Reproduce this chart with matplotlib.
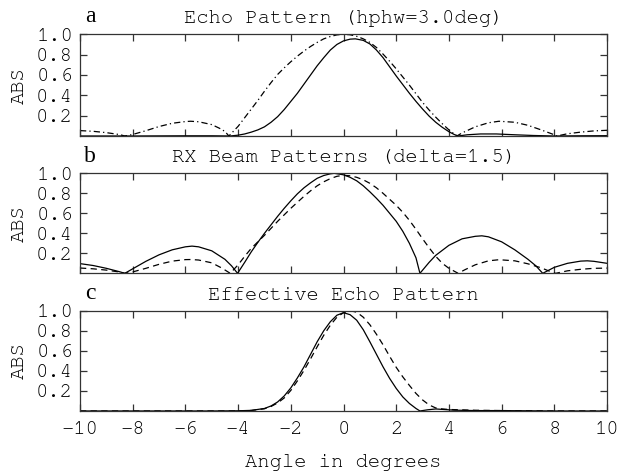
import matplotlib
matplotlib.use("Agg")
import matplotlib.pyplot as plt
from matplotlib import font_manager

# panel a: echo pattern (solid) and transmit pattern (dash-dot)
echo_x = [-10, -8, -6, -5, -4.3, -4.0, -3.75, -3.5, -3.25, -3.0, -2.75, -2.5, -2.25, -2.0,
          -1.75, -1.5, -1.25, -1.0, -0.75, -0.5, -0.25, 0.0, 0.25, 0.45, 0.75, 1.0, 1.25,
          1.5, 1.75, 2.0, 2.25, 2.5, 2.75, 3.0, 3.25, 3.5, 3.75, 4.0, 4.2, 4.35, 4.7, 5.2,
          5.8, 6.5, 7.2, 8.0, 9.0, 10]
echo_y = [0.0, 0.0, 0.002, 0.002, 0.0, 0.008, 0.02, 0.038, 0.06, 0.09, 0.135, 0.19, 0.26, 0.34,
          0.42, 0.51, 0.60, 0.69, 0.77, 0.845, 0.90, 0.935, 0.952, 0.955, 0.94, 0.905, 0.845,
          0.77, 0.68, 0.59, 0.505, 0.42, 0.34, 0.265, 0.195, 0.135, 0.085, 0.042, 0.015, 0.0,
          0.012, 0.02, 0.02, 0.012, 0.005, 0.0, 0.002, 0.003]

tx_x = [-10, -9.5, -9, -8.5, -8.3, -8, -7.5, -7, -6.5, -6, -5.8, -5.5, -5, -4.7, -4.5, -4.35,
        -4.0, -3.75, -3.5, -3.25, -3.0, -2.75, -2.5, -2.25, -2.0, -1.75, -1.5, -1.25, -1.0,
        -0.75, -0.5, -0.25, 0.0, 0.25, 0.5, 0.75, 1.0, 1.25, 1.5, 1.75, 2.0, 2.25, 2.5, 2.75,
        3.0, 3.25, 3.5, 3.75, 4.0, 4.3, 4.5, 5.0, 5.5, 5.9, 6.5, 7.0, 7.5, 8.0, 8.1, 8.5,
        9.0, 9.5, 10]
tx_y = [0.053, 0.046, 0.033, 0.014, 0.0, 0.015, 0.052, 0.093, 0.125, 0.142, 0.145, 0.14, 0.112,
        0.075, 0.045, 0.0, 0.095, 0.18, 0.265, 0.35, 0.44, 0.525, 0.605, 0.67, 0.73, 0.785,
        0.835, 0.88, 0.92, 0.955, 0.978, 0.994, 1.0, 0.995, 0.98, 0.955, 0.92, 0.87, 0.805,
        0.735, 0.66, 0.58, 0.50, 0.415, 0.33, 0.255, 0.185, 0.12, 0.06, 0.0, 0.03, 0.09, 0.13,
        0.145, 0.135, 0.105, 0.06, 0.012, 0.0, 0.022, 0.038, 0.05, 0.056]

# panel b: RX beam patterns
rx1_x = [-10, -9.5, -9.0, -8.5, -8.3, -8.0, -7.5, -7.0, -6.5, -6.0, -5.75, -5.5, -5.0, -4.5,
         -4.25, -4.02, -3.75, -3.5, -3.25, -3.0, -2.75, -2.5, -2.25, -2.0, -1.75, -1.5, -1.25,
         -1.0, -0.75, -0.5, -0.35, 0.0, 0.25, 0.5, 0.75, 1.0, 1.25, 1.5, 1.75, 2.0, 2.25, 2.5,
         2.75, 2.9, 3.25, 3.5, 4.0, 4.5, 5.0, 5.25, 5.5, 6.0, 6.5, 7.0, 7.3, 7.56, 8.0, 8.5,
         9.0, 9.25, 9.5, 10]
rx1_y = [0.097, 0.078, 0.05, 0.016, 0.0, 0.045, 0.12, 0.185, 0.235, 0.265, 0.272, 0.265, 0.225,
         0.14, 0.075, 0.0, 0.11, 0.215, 0.31, 0.40, 0.485, 0.57, 0.65, 0.725, 0.795, 0.855,
         0.905, 0.95, 0.978, 0.995, 1.0, 0.985, 0.96, 0.925, 0.875, 0.815, 0.75, 0.68, 0.60,
         0.52, 0.42, 0.30, 0.155, 0.0, 0.11, 0.18, 0.28, 0.345, 0.37, 0.375, 0.365, 0.315,
         0.235, 0.14, 0.075, 0.0, 0.06, 0.10, 0.122, 0.125, 0.12, 0.10]

rx2_x = [-10, -9.5, -9, -8.5, -8.3, -8, -7.5, -7, -6.5, -6, -5.8, -5.5, -5, -4.6, -4.3, -4.0,
         -3.75, -3.5, -3.25, -3.0, -2.75, -2.5, -2.25, -2.0, -1.75, -1.5, -1.25, -1.0, -0.75,
         -0.5, -0.25, 0.0, 0.25, 0.5, 0.75, 1.0, 1.25, 1.5, 1.75, 2.0, 2.25, 2.5, 2.75, 3.0,
         3.25, 3.5, 3.75, 4.0, 4.35, 4.6, 5.0, 5.5, 5.9, 6.5, 7.0, 7.5, 7.9, 8.05, 8.5, 9.0,
         9.5, 10]
rx2_y = [0.053, 0.045, 0.032, 0.013, 0.0, 0.014, 0.05, 0.09, 0.122, 0.137, 0.138, 0.133, 0.105,
         0.05, 0.0, 0.085, 0.17, 0.25, 0.315, 0.38, 0.45, 0.52, 0.585, 0.65, 0.71, 0.77, 0.825,
         0.875, 0.915, 0.947, 0.97, 0.98, 0.975, 0.96, 0.935, 0.90, 0.855, 0.80, 0.74, 0.68,
         0.61, 0.53, 0.44, 0.345, 0.255, 0.17, 0.10, 0.05, 0.0, 0.035, 0.085, 0.125, 0.136,
         0.125, 0.095, 0.055, 0.012, 0.0, 0.025, 0.04, 0.05, 0.052]

# panel c: effective echo pattern
eff1_x = [-10, -5, -4, -3.5, -3.0, -2.75, -2.5, -2.25, -2.0, -1.75, -1.5, -1.25, -1.0, -0.75,
          -0.5, -0.25, 0.0, 0.25, 0.5, 0.75, 1.0, 1.25, 1.5, 1.75, 2.0, 2.25, 2.5, 2.75, 2.9,
          3.2, 3.5, 3.8, 4.2, 5, 6, 7, 8, 10]
eff1_y = [0.0, 0.0, 0.002, 0.006, 0.025, 0.05, 0.09, 0.15, 0.23, 0.33, 0.44, 0.565, 0.69, 0.80,
          0.89, 0.955, 0.98, 0.96, 0.905, 0.81, 0.69, 0.565, 0.44, 0.325, 0.225, 0.14, 0.075,
          0.025, 0.0, 0.012, 0.02, 0.015, 0.008, 0.004, 0.004, 0.002, 0.0, 0.0]

eff2_x = [-10, -4, -3.5, -3.0, -2.75, -2.5, -2.25, -2.0, -1.75, -1.5, -1.25, -1.0, -0.75, -0.5,
          -0.25, 0.0, 0.25, 0.5, 0.75, 1.0, 1.25, 1.5, 1.75, 2.0, 2.25, 2.5, 2.75, 3.0, 3.25,
          3.5, 3.75, 4.0, 5, 6, 7, 8, 10]
eff2_y = [0.0, 0.0, 0.005, 0.022, 0.045, 0.08, 0.13, 0.205, 0.30, 0.405, 0.52, 0.64, 0.755,
          0.855, 0.935, 0.98, 1.0, 0.985, 0.935, 0.86, 0.765, 0.66, 0.545, 0.435, 0.34, 0.255,
          0.175, 0.11, 0.06, 0.03, 0.02, 0.015, 0.007, 0.004, 0.002, 0.0, 0.0]

titles = ["Echo Pattern (hphw=3.0deg)", "RX Beam Patterns (delta=1.5)", "Effective Echo Pattern"]
letters = ["a", "b", "c"]
x_ticks = [-10, -8, -6, -4, -2, 0, 2, 4, 6, 8, 10]
y_ticks = [0.2, 0.4, 0.6, 0.8, 1.0]

# prefer a Courier-style face if one happens to be installed
installed = {f.name for f in font_manager.fontManager.ttflist}
mono = "Liberation Mono"
for cand in ["Courier New", "Nimbus Mono PS", "FreeMono", "Courier"]:
    if cand in installed:
        mono = cand
        break
fs = 14.8

fig = plt.figure(figsize=(6.28, 4.76), dpi=100)
boxes = [[0.1274, 0.7143, 0.8392, 0.2137],
         [0.1274, 0.4258, 0.8392, 0.2101],
         [0.1274, 0.1366, 0.8392, 0.2107]]
axes = [fig.add_axes(b) for b in boxes]

axes[0].plot(echo_x, echo_y, color="black", lw=0.9)
axes[0].plot(tx_x, tx_y, color="black", lw=0.9, dashes=(5, 2.5, 1, 2.5))
axes[1].plot(rx1_x, rx1_y, color="black", lw=0.9)
axes[1].plot(rx2_x, rx2_y, color="black", lw=0.9, dashes=(5, 3.5))
axes[2].plot(eff1_x, eff1_y, color="black", lw=0.9)
axes[2].plot(eff2_x, eff2_y, color="black", lw=0.9, dashes=(5, 3.5))

for i, ax in enumerate(axes):
    ax.set_xlim(-10, 10)
    ax.set_ylim(0, 1.0)
    ax.set_xticks(x_ticks)
    ax.set_yticks(y_ticks)
    ax.set_yticklabels([f"{v:.1f}" for v in y_ticks], fontfamily=mono, fontsize=fs)
    ax.tick_params(direction="in", length=5, width=0.9, top=True, right=True,
                   colors="#333333", labelcolor="black")
    ax.tick_params(axis="y", pad=5)
    for s in ax.spines.values():
        s.set_linewidth(0.9)
        s.set_color("#333333")
    ax.set_ylabel("ABS", fontfamily=mono, fontsize=fs, labelpad=6)
    ax.set_title(titles[i], fontfamily=mono, fontsize=fs, pad=8)
    ax.text(0.019, 1.17, letters[i], transform=ax.transAxes, fontfamily="Liberation Serif",
            fontsize=17, ha="center", va="center")
    if i < 2:
        ax.set_xticklabels([])
    else:
        ax.set_xticklabels([str(v) for v in x_ticks], fontfamily=mono, fontsize=fs)
        ax.tick_params(axis="x", pad=7)
        ax.set_xlabel("Angle in degrees", fontfamily=mono, fontsize=fs, labelpad=12)

fig.savefig("out.png", dpi=100)
